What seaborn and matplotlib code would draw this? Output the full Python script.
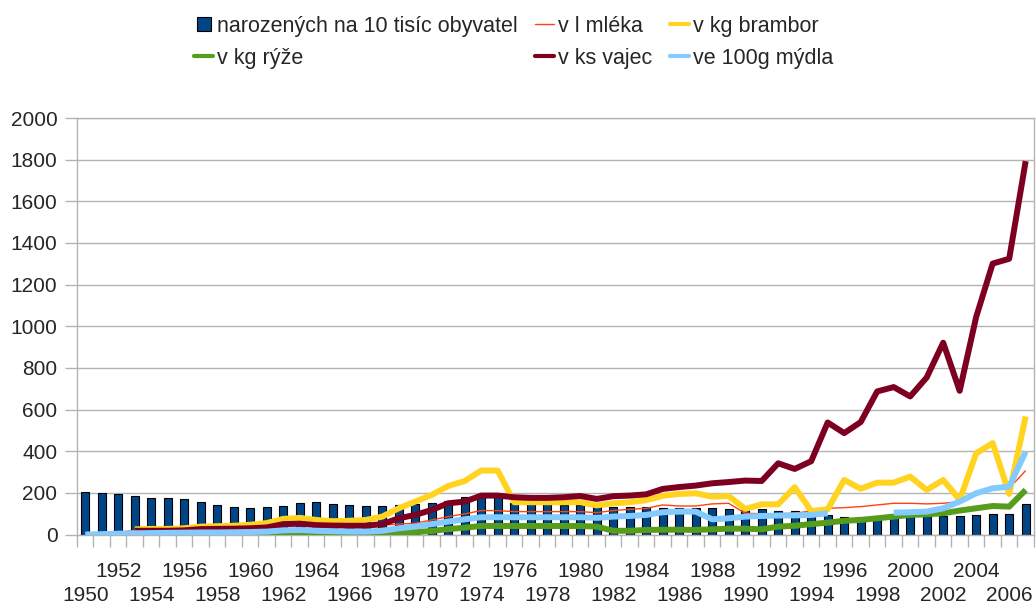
import matplotlib
matplotlib.use("Agg")
import matplotlib.pyplot as plt
import seaborn as sns
import pandas as pd
from matplotlib.lines import Line2D
from matplotlib.ticker import FixedLocator

years = list(range(1950, 2008))

births = [206, 201, 193, 184, 177, 174, 169, 158, 143, 131,
          127, 132, 137, 150, 155, 148, 142, 137, 137, 142,
          147, 153, 163, 182, 190, 186, 152, 148, 145, 142,
          140, 135, 131, 130, 130, 128, 127, 126, 126, 121,
          120, 121, 115, 114, 100, 92, 84, 83, 83, 84,
          89, 89, 89, 89, 92, 99, 99, 147]

milk = [None, None, 10, 20, 22, 22, 24, 28, 28, 28,
        30, 33, 42, 44, 40, 40, 40, 40, 45, 50,
        54, 70, 86, 99, 115, 115, 110, 110, 110, 110,
        110, 105, 115, 121, 126, 142, 137, 137, 147, 150,
        102, 100, 100, 102, 113, 126, 129, 134, 142, 150,
        150, 147, 150, 158, 190, 214, 222, 307]

potatoes = [None, None, None, 25, 27, 27, 30, 38, 40, 42,
            47, 55, 75, 80, 70, 64, 66, 70, 86, 126,
            158, 190, 233, 257, 307, 307, 155, 155, 155, 155,
            155, 140, 150, 155, 165, 186, 195, 198, 182, 185,
            123, 145, 145, 227, 113, 121, 262, 220, 249, 249,
            278, 214, 262, 166, 390, 439, 195, 567]

rice = [None, None, 0, 0, 0, 0, 0, 0, 0, 1,
        1, 2, 8, 8, 5, 5, 5, 5, 5, 8,
        12, 17, 26, 33, 41, 41, 41, 41, 41, 41,
        41, 38, 18, 18, 22, 23, 23, 22, 25, 28,
        28, 25, 38, 42, 50, 57, 66, 70, 78, 86,
        94, 97, 102, 115, 126, 137, 134, 214]

eggs = [None, None, None, 18, 18, 18, 20, 26, 27, 28,
        30, 34, 50, 52, 45, 43, 42, 42, 50, 78,
        94, 118, 150, 158, 187, 187, 179, 176, 176, 179,
        185, 171, 184, 187, 193, 219, 228, 235, 246, 252,
        259, 257, 342, 315, 352, 538, 487, 540, 687, 708,
        663, 754, 921, 690, 1045, 1301, 1324, 1793]

soap = [0, 2, 4, 6, 7, 8, 9, 10, 10, 11,
        12, 14, 20, 22, 18, 16, 14, 14, 18, 30,
        38, 50, 62, 73, 83, 83, 83, 83, 83, 83,
        83, 80, 86, 89, 94, 107, 110, 110, 73, 78,
        86, 89, 91, 92, 94, 102, None, None, None, 105,
        107, 110, 126, 158, 198, 222, 230, 398]

labels = ["narozených na 10 tisíc obyvatel", "v l mléka", "v kg brambor",
          "v kg rýže", "v ks vajec", "ve 100g mýdla"]
colors = ["#004586", "#ff420e", "#ffd320", "#579d1c", "#7e0021", "#83caff"]

sns.set_theme(style="white")
plt.rcParams["font.family"] = ["Liberation Sans", "DejaVu Sans"]

df = pd.DataFrame({"year": years, "births": births, "milk": milk,
                   "potatoes": potatoes, "rice": rice, "eggs": eggs, "soap": soap})
df = df.astype(float)

fig = plt.figure(figsize=(10.36, 6.07), dpi=100)
ax = fig.add_axes([0.0743, 0.1194, 0.9237, 0.6862])

sns.barplot(data=df, x="year", y="births", native_scale=True, width=0.5,
            color=colors[0], saturation=1, edgecolor="black", linewidth=0.8, ax=ax, zorder=2)

line_cols = [("milk", colors[1], 1.0), ("potatoes", colors[2], 4.3),
             ("rice", colors[3], 4.3), ("eggs", colors[4], 4.3)]
for col, c, lw in line_cols:
    sub = df[["year", col]].dropna()
    sns.lineplot(data=sub, x="year", y=col, color=c, linewidth=lw, ax=ax,
                 zorder=3, solid_joinstyle="round", solid_capstyle="butt")

# soap has a gap 1996-1998
for part in (df[df.year <= 1995], df[df.year >= 1999]):
    sub = part[["year", "soap"]].dropna()
    sns.lineplot(data=sub, x="year", y="soap", color=colors[5], linewidth=4.3, ax=ax,
                 zorder=3, solid_joinstyle="round", solid_capstyle="butt")

ax.set_xlim(years[0] - 0.5, years[-1] + 0.5)
ax.set_ylim(0, 2000)
ax.set_yticks(range(0, 2001, 200))
ax.set_xlabel("")
ax.set_ylabel("")

# staggered year labels: upper row on the main axis, lower row on a secondary one
ax.set_xticks(years[2::4])
ax.set_xticklabels([str(y) for y in years[2::4]])
ax.xaxis.set_minor_locator(FixedLocator([y - 0.5 for y in years] + [years[-1] + 0.5]))
ax.tick_params(axis="x", which="major", bottom=True, length=0, pad=19.5, labelsize=15)
ax.tick_params(axis="x", which="minor", bottom=True, length=8.6, width=1, color="#b3b3b3")
ax.tick_params(axis="y", left=True, length=8.6, width=1, color="#b3b3b3", pad=5.5, labelsize=15)

sec = ax.secondary_xaxis("bottom")
sec.set_xticks(years[::4])
sec.set_xticklabels([str(y) for y in years[::4]])
sec.tick_params(axis="x", length=0, pad=37, labelsize=15)
sec.spines["bottom"].set_visible(False)

ax.yaxis.grid(True, color="#b3b3b3", linewidth=1)
ax.set_axisbelow(True)
for s in ax.spines.values():
    s.set_visible(True)
    s.set_color("#b3b3b3")
    s.set_linewidth(1)

h_births = Line2D([], [], marker="s", markersize=10, markerfacecolor=colors[0],
                  markeredgecolor="black", markeredgewidth=0.8, linestyle="none")
h_lines = [Line2D([], [], color=c, linewidth=(1.0 if i == 1 else 3.0)) for i, c in enumerate(colors)]
handles = [h_births, h_lines[3], h_lines[1], h_lines[4], h_lines[2], h_lines[5]]
leg_labels = [labels[0], labels[3], labels[1], labels[4], labels[2], labels[5]]
fig.legend(handles, leg_labels, loc="upper center", bbox_to_anchor=(0.4957, 1 - 5 / 607),
           ncol=3, frameon=False, fontsize=15.5, handlelength=0.9, handletextpad=0.18,
           columnspacing=0.8, labelspacing=0.5, borderpad=0)

fig.savefig("out.png", dpi=100)
